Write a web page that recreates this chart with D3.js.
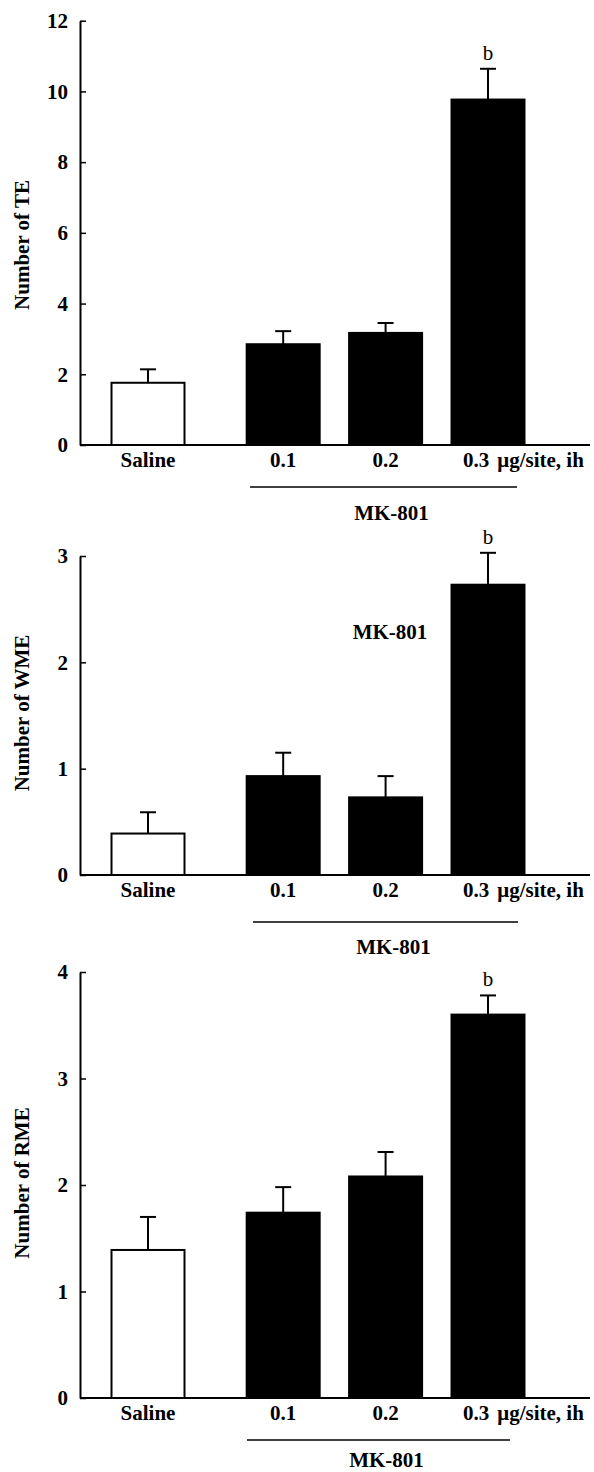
<!DOCTYPE html>
<html>
<head>
<meta charset="utf-8">
<script src="https://cdn.jsdelivr.net/npm/d3@7"></script>
<style>
  body { margin: 0; background: #fff; }
  svg text { font-family: "Liberation Serif", "Times New Roman", Times, "DejaVu Serif", serif; font-weight: bold; fill: #000; }
</style>
</head>
<body>
<div id="chart"></div>
<script>
// values
const categories = ["Saline", "0.1", "0.2", "0.3"];
const teMean = [1.76, 2.85, 3.17, 9.77];
const teSem = [0.38, 0.37, 0.28, 0.87];
const wmeMean = [0.39, 0.93, 0.73, 2.73];
const wmeSem = [0.20, 0.22, 0.20, 0.30];
const rmeMean = [1.39, 1.74, 2.08, 3.60];
const rmeSem = [0.31, 0.24, 0.23, 0.18];
const teTicks = [0, 2, 4, 6, 8, 10, 12];
const wmeTicks = [0, 1, 2, 3];
const rmeTicks = [0, 1, 2, 3, 4];
const sigLabels = ["", "", "", "b"];
const doseUnit = "\u03bcg/site, ih";
const drugName = "MK-801";

const W = 594, H = 1472;
const axisX = 80, barW = 73;
const serif = '"Liberation Serif", "Times New Roman", Times, "DejaVu Serif", serif';

// saline sits a little apart from the doses
const slot = i => i === 0 ? 0 : i + 0.32;
const x = d3.scaleLinear().domain([0, slot(3)]).range([148, 488]);

const svg = d3.select("#chart").append("svg")
  .attr("width", W).attr("height", H)
  .attr("font-family", serif);

const panels = [
  {label: "Number of TE", mean: teMean, sem: teSem, ticks: teTicks, y0: 445, y1: 20.7,
   labelY: 245, bracket: [250, 517, 487], drugY: 520, inner: null},
  {label: "Number of WME", mean: wmeMean, sem: wmeSem, ticks: wmeTicks, y0: 875, y1: 556,
   labelY: 713, bracket: [253, 518, 922], drugY: 954, inner: [390, 639]},
  {label: "Number of RME", mean: rmeMean, sem: rmeSem, ticks: rmeTicks, y0: 1398, y1: 972,
   labelY: 1183, bracket: [247, 510, 1440], drugY: 1467, inner: null}
];

panels.forEach(p => {
  const y = d3.scaleLinear()
    .domain([0, d3.max(p.ticks)])
    .range([p.y0, p.y1]);

  const g = svg.append("g");

  // y axis, ticks point inward
  const ax = g.append("g")
    .attr("transform", `translate(${axisX},0)`)
    .call(d3.axisLeft(y).tickValues(p.ticks).tickFormat(d3.format("d"))
      .tickSizeInner(-6).tickSizeOuter(0).tickPadding(12));
  ax.attr("font-family", serif).attr("font-size", 21);
  ax.select(".domain").attr("stroke-width", 2);
  ax.selectAll(".tick line").attr("stroke-width", 1.5);
  ax.selectAll("text").style("font-size", "21px");

  // baseline
  g.append("line")
    .attr("x1", axisX).attr("x2", 590)
    .attr("y1", y(0)).attr("y2", y(0))
    .attr("stroke", "#000").attr("stroke-width", 2);

  const data = categories.map((c, i) => ({c, i, m: p.mean[i], s: p.sem[i]}));

  // error bars (upper only)
  g.selectAll(".err").data(data).join("line")
    .attr("x1", d => x(slot(d.i))).attr("x2", d => x(slot(d.i)))
    .attr("y1", d => y(d.m)).attr("y2", d => y(d.m + d.s))
    .attr("stroke", "#000").attr("stroke-width", 2);
  g.selectAll(".cap").data(data).join("line")
    .attr("x1", d => x(slot(d.i)) - 8).attr("x2", d => x(slot(d.i)) + 8)
    .attr("y1", d => y(d.m + d.s)).attr("y2", d => y(d.m + d.s))
    .attr("stroke", "#000").attr("stroke-width", 2);

  // bars
  g.selectAll(".bar").data(data).join("rect")
    .attr("x", d => x(slot(d.i)) - barW / 2)
    .attr("width", barW)
    .attr("y", d => y(d.m))
    .attr("height", d => y(0) - y(d.m))
    .attr("fill", d => d.i === 0 ? "#fff" : "#000")
    .attr("stroke", "#000").attr("stroke-width", 2);

  // significance letters
  g.selectAll(".sig").data(data.filter(d => sigLabels[d.i])).join("text")
    .attr("x", d => x(slot(d.i)))
    .attr("y", d => y(d.m + d.s) - 9)
    .attr("text-anchor", "middle")
    .style("font-size", "21px").style("font-weight", "normal")
    .text(d => sigLabels[d.i]);

  // category labels
  const lab = g.selectAll(".cat").data(data).join("text")
    .attr("y", y(0) + 22)
    .style("font-size", "21px");
  lab.filter(d => d.i < 3)
    .attr("x", d => x(slot(d.i)))
    .attr("text-anchor", "middle")
    .text(d => d.c);
  const last = lab.filter(d => d.i === 3)
    .attr("x", d => x(slot(d.i)) - 25)
    .attr("text-anchor", "start");
  last.append("tspan").text(d => d.c);
  last.append("tspan").attr("dx", 8).text(doseUnit);

  // dose bracket + drug name
  const [bx1, bx2, by] = p.bracket;
  g.append("line")
    .attr("x1", bx1).attr("x2", bx2).attr("y1", by).attr("y2", by)
    .attr("stroke", "#000").attr("stroke-width", 1.5);
  g.append("text")
    .attr("x", (bx1 + bx2) / 2 + 8).attr("y", p.drugY)
    .attr("text-anchor", "middle")
    .style("font-size", "21px")
    .text(drugName);

  if (p.inner) {
    g.append("text")
      .attr("x", p.inner[0]).attr("y", p.inner[1])
      .attr("text-anchor", "middle")
      .style("font-size", "21px")
      .text(drugName);
  }

  // y label
  g.append("text")
    .attr("transform", `translate(29,${p.labelY}) rotate(-90)`)
    .attr("text-anchor", "middle")
    .style("font-size", "21px")
    .text(p.label);
});
</script>
</body>
</html>
